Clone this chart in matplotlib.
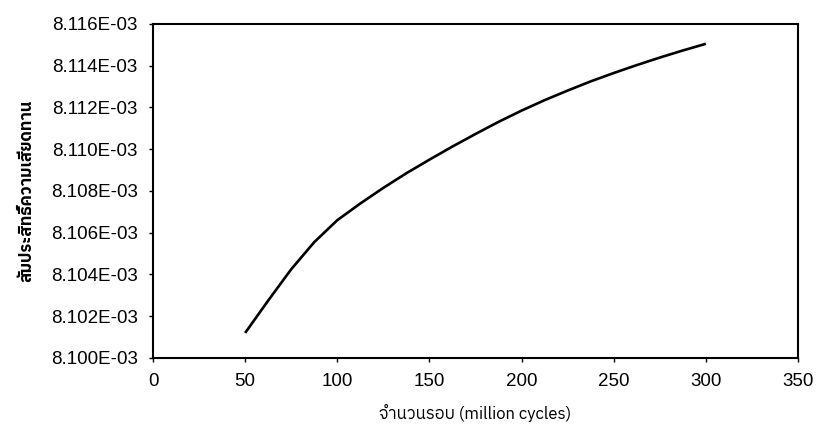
import matplotlib
matplotlib.use("Agg")
import matplotlib.pyplot as plt
from matplotlib import font_manager
from matplotlib.ticker import FuncFormatter, MultipleLocator
from matplotlib.ft2font import FT2Font

# ---- data ----
cycles = [50, 62.5, 75, 87.5, 100, 112.5, 125, 137.5, 150, 162.5, 175, 187.5, 200,
          212.5, 225, 237.5, 250, 262.5, 275, 287.5, 300]
friction = [8.10120e-3, 8.10275e-3, 8.10425e-3, 8.10555e-3, 8.10660e-3, 8.10740e-3, 8.10815e-3,
            8.10885e-3, 8.10950e-3, 8.11013e-3, 8.11073e-3, 8.11131e-3, 8.11185e-3, 8.11235e-3,
            8.11281e-3, 8.11325e-3, 8.11365e-3, 8.11403e-3, 8.11439e-3, 8.11473e-3, 8.11505e-3]
xticks = [0, 50, 100, 150, 200, 250, 300, 350]
xlabel = "จำนวนรอบ (million cycles)"
ylabel = "สัมประสิทธิ์ความเสียดทาน"

# find a font with Thai glyphs
thai_font = None
for fe in font_manager.fontManager.ttflist:
    try:
        cmap = FT2Font(fe.fname).get_charmap()
        if 0x0E08 in cmap and 0x0E31 in cmap:
            thai_font = fe.name
            if "Sans" in fe.name:
                break
    except Exception:
        pass

base = ["Liberation Sans", "DejaVu Sans"]
fam = ([thai_font] if thai_font else []) + base
plt.rcParams["font.family"] = base

fig = plt.figure(figsize=(8.17, 4.36), dpi=100)
ax = fig.add_axes([0.1873, 0.179, 0.7894, 0.766])
ax.plot(cycles, friction, color="black", lw=1.9, solid_capstyle="butt", solid_joinstyle="round")

ax.set_xlim(0, 350)
ax.set_ylim(8.100e-3, 8.116e-3)
ax.set_xticks(xticks)
ax.yaxis.set_major_locator(MultipleLocator(0.002e-3))
ax.yaxis.set_major_formatter(FuncFormatter(lambda v, p: f"{v:.3E}"))
ax.tick_params(axis="both", labelsize=13.5, length=3, width=1, direction="out", pad=8)
for s in ax.spines.values():
    s.set_linewidth(1.5)
    s.set_color("black")

ax.set_xlabel(xlabel, fontsize=12, family=fam, labelpad=10)
ax.set_ylabel(ylabel, fontsize=12, family=fam, fontweight="bold", labelpad=12)

fig.savefig("out.png", dpi=100)
